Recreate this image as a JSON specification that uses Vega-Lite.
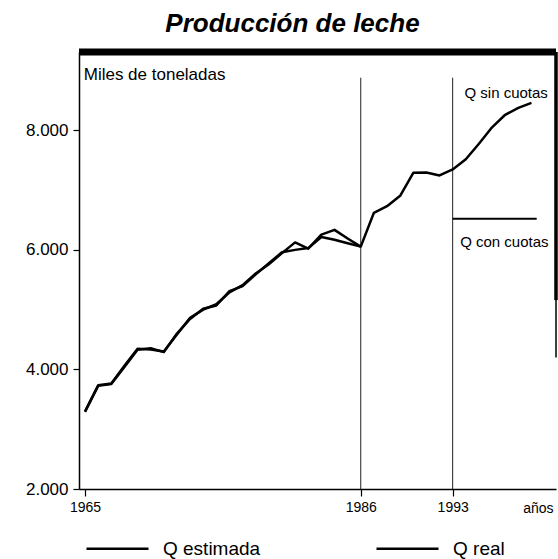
{
  "$schema": "https://vega.github.io/schema/vega-lite/v6.json",
  "width": 477,
  "height": 437,
  "autosize": {"type": "none"},
  "padding": {"left": 79, "top": 52, "right": 2, "bottom": 70},
  "background": "white",
  "config": {
    "font": "Liberation Sans",
    "view": {"stroke": null},
    "axis": {"grid": false, "domainColor": "black", "tickColor": "black", "labelColor": "black", "titleColor": "black", "labelFont": "Liberation Sans", "titleFont": "Liberation Sans"},
    "legend": {"labelFont": "Liberation Sans", "labelColor": "black"}
  },
  "title": {"text": "Producción de leche", "fontSize": 26, "fontWeight": "bold", "fontStyle": "italic", "font": "Liberation Sans", "anchor": "middle", "frame": "bounds", "offset": 12, "color": "black"},
  "datasets": {
    "series": [
      {"serie": "Q real", "year": 1965, "value": 3300},
      {"serie": "Q real", "year": 1966, "value": 3735},
      {"serie": "Q real", "year": 1967, "value": 3765},
      {"serie": "Q real", "year": 1968, "value": 4060},
      {"serie": "Q real", "year": 1969, "value": 4345},
      {"serie": "Q real", "year": 1970, "value": 4335},
      {"serie": "Q real", "year": 1971, "value": 4300},
      {"serie": "Q real", "year": 1972, "value": 4585},
      {"serie": "Q real", "year": 1973, "value": 4865},
      {"serie": "Q real", "year": 1974, "value": 5000},
      {"serie": "Q real", "year": 1975, "value": 5090},
      {"serie": "Q real", "year": 1976, "value": 5290},
      {"serie": "Q real", "year": 1977, "value": 5410},
      {"serie": "Q real", "year": 1978, "value": 5605},
      {"serie": "Q real", "year": 1979, "value": 5760},
      {"serie": "Q real", "year": 1980, "value": 5945},
      {"serie": "Q real", "year": 1981, "value": 6125},
      {"serie": "Q real", "year": 1982, "value": 6020},
      {"serie": "Q real", "year": 1983, "value": 6255},
      {"serie": "Q real", "year": 1984, "value": 6335},
      {"serie": "Q real", "year": 1985, "value": 6190},
      {"serie": "Q real", "year": 1986, "value": 6055},
      {"serie": "Q estimada", "year": 1965, "value": 3290},
      {"serie": "Q estimada", "year": 1966, "value": 3725},
      {"serie": "Q estimada", "year": 1967, "value": 3755},
      {"serie": "Q estimada", "year": 1968, "value": 4040},
      {"serie": "Q estimada", "year": 1969, "value": 4330},
      {"serie": "Q estimada", "year": 1970, "value": 4355},
      {"serie": "Q estimada", "year": 1971, "value": 4290},
      {"serie": "Q estimada", "year": 1972, "value": 4600},
      {"serie": "Q estimada", "year": 1973, "value": 4845},
      {"serie": "Q estimada", "year": 1974, "value": 5015},
      {"serie": "Q estimada", "year": 1975, "value": 5070},
      {"serie": "Q estimada", "year": 1976, "value": 5310},
      {"serie": "Q estimada", "year": 1977, "value": 5395},
      {"serie": "Q estimada", "year": 1978, "value": 5590},
      {"serie": "Q estimada", "year": 1979, "value": 5775},
      {"serie": "Q estimada", "year": 1980, "value": 5960},
      {"serie": "Q estimada", "year": 1981, "value": 6000},
      {"serie": "Q estimada", "year": 1982, "value": 6030},
      {"serie": "Q estimada", "year": 1983, "value": 6215},
      {"serie": "Q estimada", "year": 1984, "value": 6170},
      {"serie": "Q estimada", "year": 1985, "value": 6110},
      {"serie": "Q estimada", "year": 1986, "value": 6055},
      {"serie": "Q estimada", "year": 1987, "value": 6620},
      {"serie": "Q estimada", "year": 1988, "value": 6730},
      {"serie": "Q estimada", "year": 1989, "value": 6905},
      {"serie": "Q estimada", "year": 1990, "value": 7290},
      {"serie": "Q estimada", "year": 1991, "value": 7295},
      {"serie": "Q estimada", "year": 1992, "value": 7245},
      {"serie": "Q estimada", "year": 1993, "value": 7345},
      {"serie": "Q estimada", "year": 1994, "value": 7515},
      {"serie": "Q estimada", "year": 1995, "value": 7775},
      {"serie": "Q estimada", "year": 1996, "value": 8050},
      {"serie": "Q estimada", "year": 1997, "value": 8260},
      {"serie": "Q estimada", "year": 1998, "value": 8375},
      {"serie": "Q estimada", "year": 1999, "value": 8460}
    ],
    "cuotas": [
      {"year": 1993, "value": 6520},
      {"year": 1999.4, "value": 6520}
    ],
    "marcas": [{"year": 1986}, {"year": 1993}],
    "notasIzq": [{"label": "Miles de toneladas", "year": 1964.9, "value": 8845}],
    "notasDer": [
      {"label": "Q sin cuotas", "year": 2000.25, "value": 8545},
      {"label": "Q con cuotas", "year": 2000.3, "value": 6050}
    ]
  },
  "layer": [
    {
      "data": {"name": "marcas"},
      "mark": {"type": "rule", "color": "#222", "strokeWidth": 1},
      "encoding": {
        "x": {"field": "year", "type": "quantitative", "scale": {"domain": [1964.54, 2000.87], "nice": false, "zero": false}},
        "y": {"datum": 2000, "type": "quantitative", "scale": {"domain": [2000, 9310], "nice": false, "zero": false}},
        "y2": {"datum": 8880}
      }
    },
    {
      "data": {"name": "series"},
      "mark": {"type": "line", "strokeWidth": 2.5, "strokeJoin": "round"},
      "encoding": {
        "x": {"field": "year", "type": "quantitative", "scale": {"domain": [1964.54, 2000.87], "nice": false, "zero": false},
          "axis": {"values": [1965, 1986, 1993], "format": "d", "tickSize": 7, "labelFontSize": 14, "labelPadding": 4, "domainWidth": 1.5, "tickWidth": 1.2,
            "title": "años", "titleFontSize": 14, "titleFontWeight": "normal", "titleX": 474, "titleY": 12, "titleAlign": "right", "titleAnchor": "end", "titleBaseline": "top"}},
        "y": {"field": "value", "type": "quantitative", "scale": {"domain": [2000, 9310], "nice": false, "zero": false},
          "axis": {"values": [2000, 4000, 6000, 8000], "labelExpr": "replace(format(datum.value, ','), ',', '.')", "tickSize": 6, "labelPadding": 5, "labelFontSize": 17, "domainWidth": 1.5, "tickWidth": 1.2, "title": null}},
        "color": {"field": "serie", "type": "nominal", "scale": {"domain": ["Q estimada", "Q real"], "range": ["black", "black"]},
          "legend": {"title": null, "orient": "none", "legendX": 6, "legendY": 464, "direction": "horizontal", "symbolType": "stroke", "symbolSize": 3844, "symbolStrokeWidth": 2.5, "labelFontSize": 19, "labelOffset": 13, "columnPadding": 110}},
        "order": {"field": "year", "type": "quantitative"}
      }
    },
    {
      "data": {"name": "cuotas"},
      "mark": {"type": "line", "strokeWidth": 2, "color": "black"},
      "encoding": {
        "x": {"field": "year", "type": "quantitative"},
        "y": {"field": "value", "type": "quantitative"}
      }
    },
    {
      "data": {"values": [{}]},
      "mark": {"type": "rule", "color": "black", "strokeWidth": 7},
      "encoding": {
        "x": {"datum": 1964.54, "type": "quantitative"},
        "x2": {"datum": 2000.87},
        "y": {"datum": 9310, "type": "quantitative"}
      }
    },
    {
      "data": {"values": [{}]},
      "mark": {"type": "rule", "color": "black", "strokeWidth": 3.5},
      "encoding": {
        "x": {"datum": 2000.87, "type": "quantitative"},
        "y": {"datum": 5160, "type": "quantitative"},
        "y2": {"datum": 9310}
      }
    },
    {
      "data": {"values": [{}]},
      "mark": {"type": "rule", "color": "black", "strokeWidth": 1.5},
      "encoding": {
        "x": {"datum": 2000.87, "type": "quantitative"},
        "y": {"datum": 4200, "type": "quantitative"},
        "y2": {"datum": 5160}
      }
    },
    {
      "data": {"name": "notasIzq"},
      "mark": {"type": "text", "align": "left", "baseline": "alphabetic", "fontSize": 17, "color": "black", "font": "Liberation Sans"},
      "encoding": {
        "x": {"field": "year", "type": "quantitative"},
        "y": {"field": "value", "type": "quantitative"},
        "text": {"field": "label"}
      }
    },
    {
      "data": {"name": "notasDer"},
      "mark": {"type": "text", "align": "right", "baseline": "alphabetic", "fontSize": 15, "color": "black", "font": "Liberation Sans"},
      "encoding": {
        "x": {"field": "year", "type": "quantitative"},
        "y": {"field": "value", "type": "quantitative"},
        "text": {"field": "label"}
      }
    }
  ]
}
